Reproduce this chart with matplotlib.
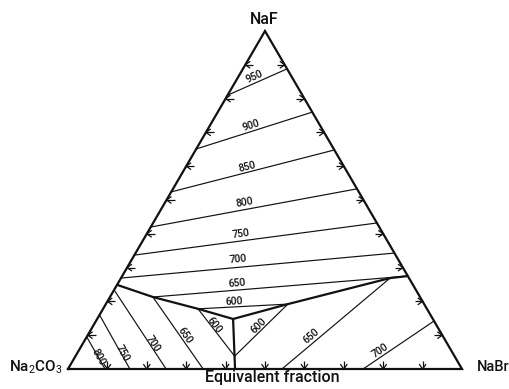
import numpy as np
import matplotlib
matplotlib.use("Agg")
import matplotlib.pyplot as plt

plt.rcParams["font.family"] = ["Roboto", "DejaVu Sans"]
plt.rcParams["mathtext.fontset"] = "custom"
plt.rcParams["mathtext.rm"] = "Roboto"
plt.rcParams["mathtext.it"] = "Roboto"
plt.rcParams["mathtext.bf"] = "Roboto"

# Equivalent-fraction liquidus projection of the NaF - Na2CO3 - NaBr system.
# Every composition is given as (NaF, NaBr); Na2CO3 = 1 - NaF - NaBr.

vertex_names = ["NaF", "Na$_2$CO$_3$", "NaBr"]
axis_title = "Equivalent fraction"

# isotherms: start point -> end point, temperature in deg C
iso_T = [950, 900, 850, 800, 750, 700, 650, 600,
         800, 750, 700, 650, 600,
         600, 650, 700]
iso_F0 = [0.810, 0.651, 0.524, 0.420, 0.337, 0.269, 0.213, 0.178,
          0.095, 0.160, 0.234, 0.213, 0.178,
          0.038, 0.000, 0.000]
iso_Br0 = [0.000, 0.000, 0.000, 0.000, 0.000, 0.000, 0.109, 0.241,
           0.000, 0.000, 0.000, 0.109, 0.241,
           0.404, 0.543, 0.749]
iso_F1 = [0.888, 0.760, 0.648, 0.533, 0.432, 0.343, 0.275, 0.192,
          0.000, 0.000, 0.000, 0.000, 0.038,
          0.192, 0.269, 0.142]
iso_Br1 = [0.112, 0.240, 0.352, 0.467, 0.568, 0.657, 0.725, 0.462,
           0.094, 0.157, 0.249, 0.343, 0.404,
           0.462, 0.683, 0.858]
# where each temperature label sits along its isotherm (fraction, offset in px)
label_t = [0.50, 0.49, 0.475, 0.46, 0.444, 0.43, 0.33, 0.40,
           0.646, 0.72, 0.695, 0.563, 0.386,
           0.51, 0.31, 0.285]
label_off = [6, 6, 5, 7, 7, 8, 7, 5,
             0, 1, 3, 4, 3,
             5, 6, 6]

# boundary curves between the primary crystallisation fields
bnd_left_F = [0.249, 0.213, 0.178, 0.148]
bnd_left_Br = [0.000, 0.109, 0.241, 0.345]
bnd_right_F = [0.148, 0.192, 0.269, 0.275]
bnd_right_Br = [0.345, 0.462, 0.683, 0.725]
bnd_low_F = [0.148, 0.000]
bnd_low_Br = [0.345, 0.424]

tick_fracs = [0.1, 0.2, 0.3, 0.4, 0.5, 0.6, 0.7, 0.8, 0.9]

H = np.sqrt(3) / 2


def to_xy(f, br):
    f = np.asarray(f, float)
    br = np.asarray(br, float)
    return br + 0.5 * f, f * H


W_PX, H_PX = 510, 389
fig = plt.figure(figsize=(W_PX / 100, H_PX / 100), dpi=100)
ax = fig.add_axes([0, 0, 1, 1])
ax.set_axis_off()
# triangle: base from px 68 to 462, base at 20 px above bottom, apex at 358 px
sx = 394.0
sy = 338.0 / H
ax.set_xlim(-68 / sx, (W_PX - 68) / sx)
ax.set_ylim(-20 / sy, (H_PX - 20) / sy)

ink = "#111111"

# triangle frame
tx, ty = to_xy([0, 1, 0, 0], [0, 0, 1, 0])
ax.plot(tx, ty, color=ink, lw=1.6, solid_joinstyle="miter", zorder=3)

# boundary curves
for F, B in [(bnd_left_F, bnd_left_Br), (bnd_right_F, bnd_right_Br),
             (bnd_low_F, bnd_low_Br)]:
    x, y = to_xy(F, B)
    ax.plot(x, y, color=ink, lw=1.6, solid_capstyle="butt", zorder=3)

fig.canvas.draw()
trans = ax.transData
inv = trans.inverted()

# isotherms with their temperature labels
for T, f0, b0, f1, b1, t, off in zip(iso_T, iso_F0, iso_Br0, iso_F1, iso_Br1,
                                     label_t, label_off):
    x, y = to_xy([f0, f1], [b0, b1])
    ax.plot(x, y, color=ink, lw=0.85, zorder=2)
    p0 = trans.transform((x[0], y[0]))
    p1 = trans.transform((x[1], y[1]))
    d = p1 - p0
    ang = np.degrees(np.arctan2(d[1], d[0]))
    n = np.array([-d[1], d[0]]) / np.hypot(*d)
    pc = p0 + t * d + off * n
    lx, ly = inv.transform(pc)
    ax.text(lx, ly, str(T), rotation=ang, rotation_mode="anchor",
            ha="center", va="center", fontsize=7.5, fontweight="medium",
            color=ink, zorder=4)

# arrow-shaped ticks along the three edges
corners = {"F": np.array(to_xy(1, 0)), "C": np.array(to_xy(0, 0)),
           "B": np.array(to_xy(0, 1))}
edges = [("C", "F", 0.0), ("F", "B", 180.0), ("C", "B", 90.0)]
centroid = trans.transform(to_xy(1 / 3, 1 / 3))
for a, b, stem_dir in edges:
    for fr in tick_fracs:
        pt = corners[a] + fr * (corners[b] - corners[a])
        tip = trans.transform(pt)
        ang = np.radians(stem_dir)
        u = np.array([np.cos(ang), np.sin(ang)])
        if np.dot(centroid - tip, u) < 0:
            u = -u
        segs = [tip + 8 * u]
        for s in (+1, -1):
            r = np.radians(35 * s)
            v = np.array([u[0] * np.cos(r) - u[1] * np.sin(r),
                          u[0] * np.sin(r) + u[1] * np.cos(r)])
            segs.append(tip + 6 * v)
        for e in segs:
            q = inv.transform(np.vstack([tip, e]))
            ax.plot(q[:, 0], q[:, 1], color=ink, lw=0.9, zorder=3,
                    solid_capstyle="butt")

# component and axis labels
lab = dict(textcoords="offset points", color=ink, fontweight="medium")
ax.annotate(vertex_names[0], xy=to_xy(1, 0), xytext=(-1 * 0.72, 12 * 0.72),
            ha="center", va="center", fontsize=11.5, **lab)
ax.annotate(vertex_names[1], xy=to_xy(0, 0), xytext=(-6 * 0.72, -3 * 0.72),
            ha="right", va="baseline", fontsize=11, **lab)
ax.annotate(vertex_names[2], xy=to_xy(0, 1), xytext=(15 * 0.72, -2 * 0.72),
            ha="left", va="baseline", fontsize=10.5, **lab)
ax.annotate(axis_title, xy=to_xy(0, 0.518), xytext=(0, -13 * 0.72),
            ha="center", va="baseline", fontsize=11.5, **lab)

fig.savefig("out.png", dpi=100)
